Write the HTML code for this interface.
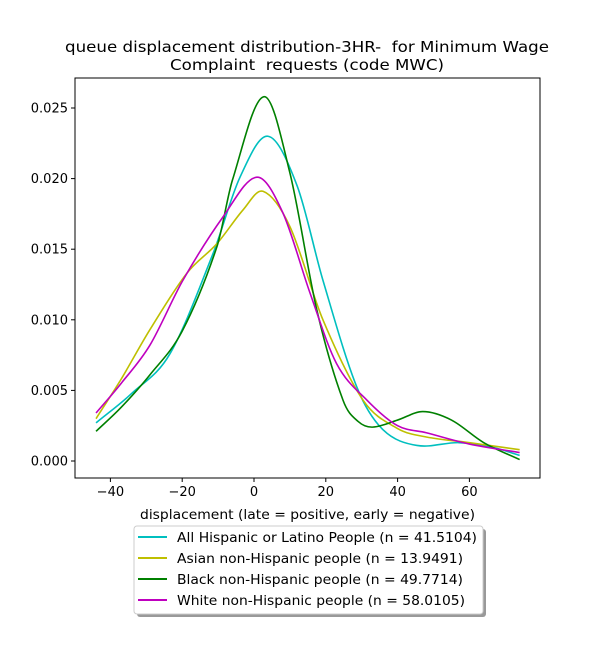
<!DOCTYPE html>
<html><head><meta charset="utf-8"><style>
body{margin:0;background:#fff;}
svg{display:block;font-family:"DejaVu Sans","Liberation Sans",sans-serif;}
text{white-space:pre;}
</style></head><body>
<svg id="c" width="600" height="650"></svg>
<script>
const xTicks=[-40,-20,0,20,40,60];
const yTicks=[0,0.005,0.010,0.015,0.020,0.025];
const yTickLabels=["0.000","0.005","0.010","0.015","0.020","0.025"];
const seriesNames=["All Hispanic or Latino People (n = 41.5104)","Asian non-Hispanic people (n = 13.9491)","Black non-Hispanic people (n = 49.7714)","White non-Hispanic people (n = 58.0105)"];
const seriesColors=["#00bfbf","#bfbf00","#008000","#bf00bf"];
const xsHisp=[-44,-34,-23.4,-11.4,-3.9,3.9,12,19.2,28.7,36,45.4,57,66,74];
const ysHisp=[0.0027,0.0048,0.0076,0.0147,0.0201,0.0230,0.0195,0.0128,0.0052,0.0022,0.0011,0.0013,0.0010,0.0004];
const xsAsian=[-44,-37,-29,-18.7,-10.3,-3,2.5,10,19.2,30.4,40,48,60,74];
const ysAsian=[0.003,0.0058,0.0093,0.0133,0.0154,0.0178,0.0191,0.0166,0.0100,0.0043,0.0023,0.0017,0.0013,0.0008];
const xsBlack=[-44,-37,-29,-20,-10.3,-6,2.8,10,17.5,24.8,29,33,40,47,55,64,74];
const ysBlack=[0.0021,0.0038,0.0061,0.0092,0.0152,0.0199,0.0258,0.0204,0.0107,0.0043,0.0028,0.0024,0.0029,0.0035,0.0029,0.0013,0.0001];
const xsWhite=[-44,-37,-29,-19.8,-8.6,0.8,8,15.6,23,31.5,40,48,60,74];
const ysWhite=[0.0034,0.0055,0.0082,0.0128,0.0173,0.0201,0.0176,0.0119,0.0069,0.0043,0.0025,0.0020,0.0012,0.0006];
const series=[[xsHisp,ysHisp],[xsAsian,ysAsian],[xsBlack,ysBlack],[xsWhite,ysWhite]];
const L=75,R=540,T=78,B=478;
const X=v=>254+3.59*v;
const Y=v=>461-v*(353/0.025);
const svg=document.getElementById('c');
const NS="http://www.w3.org/2000/svg";
function mk(t,a,txt){const e=document.createElementNS(NS,t);for(const k in a)e.setAttribute(k,a[k]);if(txt!==undefined)e.textContent=txt;svg.appendChild(e);return e;}
function path(xs,ys){const n=xs.length;const m=[];
for(let i=0;i<n;i++){const a=Math.max(0,i-1),b=Math.min(n-1,i+1);m.push((ys[b]-ys[a])/(xs[b]-xs[a]));}
let d=`M${X(xs[0])},${Y(ys[0])}`;
for(let i=0;i<n-1;i++){const h=(xs[i+1]-xs[i])/3;
d+=` C${X(xs[i]+h)},${Y(ys[i]+m[i]*h)} ${X(xs[i+1]-h)},${Y(ys[i+1]-m[i+1]*h)} ${X(xs[i+1])},${Y(ys[i+1])}`;}return d;}
let t=mk('text',{x:65,y:52,'font-size':15.5,fill:'#000',textLength:484,lengthAdjust:'spacingAndGlyphs'},'queue displacement distribution-3HR-  for Minimum Wage');

t=mk('text',{x:170,y:70,'font-size':15.5,fill:'#000',textLength:274,lengthAdjust:'spacingAndGlyphs'},'Complaint  requests (code MWC)');

series.forEach((s,i)=>{const e=mk('path',{d:path(s[0],s[1]),fill:'none',stroke:seriesColors[i],'stroke-width':1.6});
});
const fr=mk('rect',{x:L,y:T,width:R-L,height:B-T,fill:'none',stroke:'#000','stroke-width':1});

xTicks.forEach(v=>{mk('line',{x1:X(v),x2:X(v),y1:B,y2:B+4,stroke:'#000'});
const e=mk('text',{x:X(v),y:B+18,'text-anchor':'middle','font-size':13},v<0?'\u2212'+(-v):String(v));
});
yTicks.forEach((v,i)=>{mk('line',{x1:L-4,x2:L,y1:Y(v),y2:Y(v),stroke:'#000'});
const e=mk('text',{x:L-7,y:Y(v)+4.5,'text-anchor':'end','font-size':13},yTickLabels[i]);
});
t=mk('text',{x:140,y:519,'font-size':13.5,textLength:335,lengthAdjust:'spacingAndGlyphs'},'displacement (late = positive, early = negative)');

mk('rect',{x:137,y:529,width:349,height:88,rx:3,fill:'#999'});
const lg=mk('rect',{x:134,y:526,width:349,height:88,rx:3,fill:'#fff',stroke:'#ccc'});

seriesNames.forEach((n,i)=>{const y=537+21*i;
mk('line',{x1:138,x2:167,y1:y,y2:y,stroke:seriesColors[i],'stroke-width':2});
const e=mk('text',{x:177,y:y+5,'font-size':13.5,textLength:i==0?300:(i==3?288:286),lengthAdjust:'spacingAndGlyphs'},n);
});
</script>
</body></html>
